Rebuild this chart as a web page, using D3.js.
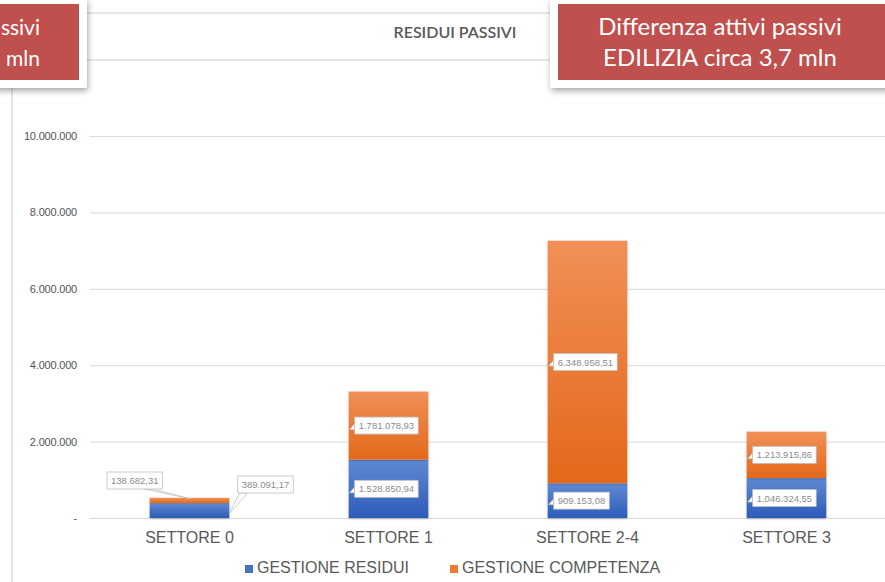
<!DOCTYPE html>
<meta charset="utf-8">
<style>
  body { margin: 0; background: #fff; }
  svg { display: block; font-family: "Liberation Sans", Arial, sans-serif; }
</style>
<script src="https://d3js.org/d3.v7.min.js"></script>
<div id="chart"></div>
<script>
// data
var categories = ["SETTORE 0", "SETTORE 1", "SETTORE 2-4", "SETTORE 3"];
var seriesNames = ["GESTIONE RESIDUI", "GESTIONE COMPETENZA"];
var residui = [389091.17, 1528850.94, 909153.08, 1046324.55];
var competenza = [138682.31, 1781078.93, 6348958.51, 1213915.86];
var yTicks = [0, 2000000, 4000000, 6000000, 8000000, 10000000];
var chartTitle = "RESIDUI PASSIVI";
var boxRight = ["Differenza attivi passivi", "EDILIZIA circa 3,7 mln"];
var boxLeft = ["ssivi", "mln"];

var W = 885, H = 582;
var it = d3.formatLocale({decimal: ",", thousands: ".", grouping: [3], currency: ["€", ""]});
var fmtTick = function(d) { return d === 0 ? "-" : it.format(",.0f")(d); };
var fmtLabel = it.format(",.2f");

var svg = d3.select("#chart").append("svg")
    .attr("width", W)
    .attr("height", H);

var defs = svg.append("defs");
var sh = defs.append("filter").attr("id", "shadow")
    .attr("x", "-20%").attr("y", "-20%").attr("width", "140%").attr("height", "150%");
sh.append("feDropShadow").attr("dx", 1).attr("dy", 3).attr("stdDeviation", 3)
    .attr("flood-color", "#000").attr("flood-opacity", 0.35);
var bsh = defs.append("filter").attr("id", "barshadow")
    .attr("x", "-10%").attr("y", "-10%").attr("width", "120%").attr("height", "120%");
bsh.append("feDropShadow").attr("dx", 0).attr("dy", 1).attr("stdDeviation", 1)
    .attr("flood-color", "#000").attr("flood-opacity", 0.25);

var grads = [["gradBlue", "#5f89d3", "#2d5cb8"], ["gradOrange", "#f19058", "#e3681a"]];
grads.forEach(function(g) {
  var lg = defs.append("linearGradient").attr("id", g[0])
      .attr("x1", 0).attr("y1", 0).attr("x2", 0).attr("y2", 1);
  lg.append("stop").attr("offset", "0%").attr("stop-color", g[1]);
  lg.append("stop").attr("offset", "100%").attr("stop-color", g[2]);
});
var legendColors = ["#4472c4", "#ed7d31"];

// frame lines of the slide
svg.append("line").attr("x1", 12).attr("x2", 12).attr("y1", 85).attr("y2", H)
    .attr("stroke", "#e3e3e3").attr("stroke-width", 2);
[13, 60].forEach(function(y) {
  svg.append("line").attr("x1", 85).attr("x2", W).attr("y1", y).attr("y2", y)
      .attr("stroke", "#e6e6e6").attr("stroke-width", 2);
});

svg.append("text")
    .attr("x", 455).attr("y", 38)
    .attr("text-anchor", "middle")
    .style("font-family", "Lato, 'Open Sans', sans-serif")
    .style("font-size", "16px")
    .style("font-weight", 600)
    .attr("fill", "#595959")
    .text(chartTitle);

// scales
var x = d3.scaleBand()
    .domain(categories)
    .range([90, 886])
    .paddingInner(0.6)
    .paddingOuter(0.3);
var y = d3.scaleLinear()
    .domain([0, 10000000])
    .range([518, 136]);

// y axis with gridlines
var yAxis = svg.append("g")
    .attr("transform", "translate(90,0)")
    .call(d3.axisLeft(y).tickValues(yTicks).tickFormat(fmtTick)
      .tickSize(-(W - 90)).tickPadding(13));
yAxis.select(".domain").remove();
yAxis.selectAll("line").attr("stroke", "#d9d9d9");
yAxis.selectAll("text")
    .attr("fill", "#555")
    .style("font-size", "11px")
    .style("letter-spacing", "-0.2px");

// x axis labels
var xAxis = svg.append("g")
    .attr("transform", "translate(0,518)")
    .call(d3.axisBottom(x).tickSize(0).tickPadding(14));
xAxis.select(".domain").remove();
xAxis.selectAll("text")
    .attr("fill", "#595959")
    .style("font-size", "16px");

// stacked bars
var rows = categories.map(function(c, i) {
  return {cat: c, residui: residui[i], competenza: competenza[i]};
});
var stack = d3.stack().keys(["residui", "competenza"])(rows);

var layers = svg.append("g").selectAll("g")
    .data(stack)
    .join("g")
    .attr("fill", function(d, i) { return "url(#" + grads[i][0] + ")"; });

layers.selectAll("rect")
    .data(function(d) { return d; })
    .join("rect")
    .attr("x", function(d) { return x(d.data.cat); })
    .attr("y", function(d) { return y(d[1]); })
    .attr("width", x.bandwidth())
    .attr("height", function(d) { return y(d[0]) - y(d[1]); })
    .attr("filter", "url(#barshadow)");

// data labels
var labels = [];
stack.forEach(function(s) {
  s.forEach(function(d, i) {
    labels.push({i: i, key: s.key, v: d[1] - d[0], y0: y(d[0]), y1: y(d[1])});
  });
});

var lab = svg.append("g")
    .style("font-size", "9.5px");

labels.forEach(function(l) {
  var bx = x(categories[l.i]);
  var t = lab.append("text")
      .attr("fill", "#8c8c8c")
      .text(fmtLabel(l.v));
  var tw = t.node().getComputedTextLength();
  var bw = tw + 8, bh = 17;
  var cy = (l.y0 + l.y1) / 2;
  var left, top, tip;
  if (l.i === 0) {
    // small first bar: callouts placed outside
    if (l.key === "competenza") {
      left = 107; top = 472;
      tip = [bx + 41, l.y1 + 1];
    } else {
      left = bx + 88; top = 476;
      tip = [bx + x.bandwidth(), cy + 3];
    }
    var ax = l.key === "competenza" ? left + bw - 18 : left + 2;
    lab.insert("path", "text")
        .attr("d", "M" + ax + "," + (top + bh) + "L" + tip[0] + "," + tip[1] + "L" + (ax + 8) + "," + (top + bh) + "Z")
        .attr("fill", "#fff").attr("stroke", "#bfbfbf").attr("stroke-width", 0.8);
  } else {
    left = bx + 6; top = cy - bh / 2;
    lab.insert("path", "text")
        .attr("d", "M" + left + "," + (cy - 2) + "L" + (bx + 1) + "," + (cy + 4) + "L" + left + "," + (cy + 4) + "Z")
        .attr("fill", "#fff").attr("stroke", "#bfbfbf").attr("stroke-width", 0.8);
  }
  lab.insert("rect", "text")
      .attr("x", left).attr("y", top).attr("width", bw).attr("height", bh)
      .attr("fill", "#fff").attr("stroke", "#bfbfbf").attr("stroke-width", 0.8);
  t.attr("x", left + 4).attr("y", top + 12);
});

// legend
var legend = svg.append("g")
    .selectAll("g")
    .data(seriesNames)
    .join("g")
    .attr("transform", function(d, i) { return "translate(" + [245, 450][i] + ",565)"; });
legend.append("rect")
    .attr("width", 8).attr("height", 8)
    .attr("fill", function(d, i) { return legendColors[i]; });
legend.append("text")
    .attr("x", 12).attr("y", 8)
    .attr("fill", "#595959")
    .style("font-size", "16px")
    .text(function(d) { return d; });

// red callout boxes
function redBox(fx, fw, rx, rw, lines, anchor, tx, fs) {
  var g = svg.append("g");
  g.append("rect").attr("x", fx).attr("y", -2).attr("width", fw).attr("height", 90)
      .attr("rx", 3).attr("fill", "#fff").attr("filter", "url(#shadow)");
  g.append("rect").attr("x", rx).attr("y", 4).attr("width", rw).attr("height", 76)
      .attr("fill", "#c0504d");
  lines.forEach(function(s, k) {
    g.append("text")
        .attr("x", tx).attr("y", 35 + k * 31)
        .attr("text-anchor", anchor)
        .attr("fill", "#fff")
        .style("font-family", "Lato, 'Open Sans', sans-serif")
        .style("font-size", fs)
        .text(s);
  });
}
redBox(-20, 107, -20, 99, boxLeft, "end", 40, "21px");
redBox(550, 360, 558, 340, boxRight, "middle", 720, "24px");
</script>
